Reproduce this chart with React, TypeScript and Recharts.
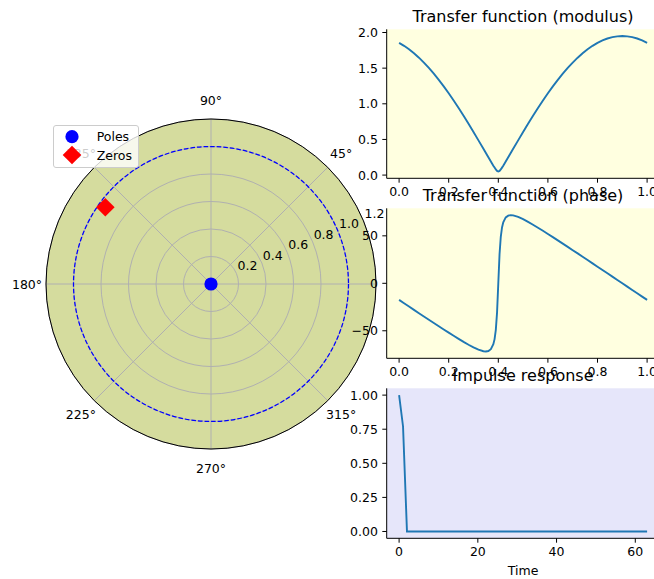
import React from "react";
import {
  RadarChart, Radar, PolarGrid, PolarAngleAxis, PolarRadiusAxis, Legend,
  LineChart, Line, XAxis, YAxis, CartesianGrid, Label,
} from "recharts";

const FONT = "'DejaVu Sans', sans-serif";
const LINE = "#1f77b4";
const POLAR_BG = "#d5dc9e";
const OUTER_R = 165;
const R_MAX = 1.2;

// polar plot: poles and zeros (angle in degrees, radius)
const poleAngles = [0];
const poleRadii = [0];
const zeroAngles = [144];
const zeroRadii = [0.95];
const unitCircle = [1.0];
const angleTicks = [0, 45, 90, 135, 180, 225, 270, 315];
const radiusTicks = [0.2, 0.4, 0.6, 0.8, 1.0, 1.2];

// transfer function
const freq = [
  0, 0.02, 0.04, 0.06, 0.08, 0.1, 0.12, 0.14, 0.16, 0.18, 0.2, 0.22, 0.24, 0.26, 0.28, 0.3,
  0.32, 0.34, 0.35, 0.36, 0.37, 0.38, 0.385, 0.39, 0.395, 0.4, 0.405, 0.41, 0.415, 0.42, 0.43,
  0.44, 0.45, 0.46, 0.48, 0.5, 0.52, 0.54, 0.56, 0.58, 0.6, 0.62, 0.64, 0.66, 0.68, 0.7, 0.72,
  0.74, 0.76, 0.78, 0.8, 0.82, 0.84, 0.86, 0.88, 0.9, 0.92, 0.94, 0.96, 0.98, 1.0,
];
const modulus = [
  1.855, 1.813, 1.765, 1.709, 1.647, 1.578, 1.503, 1.422, 1.335, 1.244, 1.147, 1.046, 0.941, 0.832, 0.719, 0.605,
  0.487, 0.369, 0.309, 0.249, 0.19, 0.132, 0.105, 0.079, 0.059, 0.05, 0.059, 0.079, 0.105, 0.132, 0.19,
  0.249, 0.309, 0.369, 0.487, 0.605, 0.719, 0.832, 0.941, 1.046, 1.147, 1.244, 1.335, 1.422, 1.503, 1.578, 1.647,
  1.709, 1.765, 1.813, 1.855, 1.889, 1.916, 1.935, 1.946, 1.95, 1.946, 1.935, 1.916, 1.889, 1.855,
];
const phase = [
  -17.5, -21.0, -24.5, -28.0, -31.5, -34.9, -38.4, -41.8, -45.2, -48.6, -52.0, -55.3, -58.5, -61.7, -64.7, -67.5,
  -69.9, -71.6, -71.8, -71.3, -69.4, -64.2, -58.8, -49.0, -30.6, 0, 30.6, 49.0, 58.8, 64.2, 69.4,
  71.3, 71.8, 71.6, 69.9, 67.5, 64.7, 61.7, 58.5, 55.3, 52.0, 48.6, 45.2, 41.8, 38.4, 34.9, 31.5,
  28.0, 24.5, 21.0, 17.5, 14.0, 10.5, 7.0, 3.5, 0, -3.5, -7.0, -10.5, -14.0, -17.5,
];
const impulse = [
  1, 0.77, 0, 0, 0, 0, 0, 0, 0, 0, 0, 0, 0, 0, 0, 0,
  0, 0, 0, 0, 0, 0, 0, 0, 0, 0, 0, 0, 0, 0, 0, 0,
  0, 0, 0, 0, 0, 0, 0, 0, 0, 0, 0, 0, 0, 0, 0, 0,
  0, 0, 0, 0, 0, 0, 0, 0, 0, 0, 0, 0, 0, 0, 0, 0,
];

const freqTicks = [0, 0.2, 0.4, 0.6, 0.8, 1.0];
const modTicks = [0, 0.5, 1, 1.5, 2];
const phaseTicks = [-50, 0, 50];
const timeTicks = [0, 20, 40, 60];
const impTicks = [0, 0.25, 0.5, 0.75, 1];

const polarData = [
  ...poleAngles.map((a, i) => ({ angle: a, pole: poleRadii[i] })),
  ...zeroAngles.map((a, i) => ({ angle: a, zero: zeroRadii[i] })),
];
const freqData = freq.map((f, i) => ({ f, mod: modulus[i], ph: phase[i] }));
const impData = impulse.map((h, t) => ({ t, h }));

const minus = (v: number) => (v < 0 ? `\u2212${Math.abs(v)}` : `${v}`);

function Diamond({ cx, cy, s = 9.3 }: { cx: number; cy: number; s?: number }) {
  return <polygon points={`${cx},${cy - s} ${cx + s},${cy} ${cx},${cy + s} ${cx - s},${cy}`} fill="#ff0000" />;
}

// a Radar point carries the data row in payload.payload
const rowOf = (p: any) => (p.payload && p.payload.payload ? p.payload.payload : p.payload) || {};

const poleDot = (p: any) =>
  rowOf(p).pole != null && Number.isFinite(p.cx)
    ? <circle key={`p${p.index}`} cx={p.cx} cy={p.cy} r={6.6} fill="#0000ff" />
    : <g key={`p${p.index}`} />;

const zeroDot = (p: any) =>
  rowOf(p).zero != null && Number.isFinite(p.cx)
    ? <Diamond key={`z${p.index}`} cx={p.cx} cy={p.cy} />
    : <g key={`z${p.index}`} />;

const angleTick = (p: any) => (
  <text x={p.x} y={p.y} textAnchor="middle" dominantBaseline="central" fontSize={12.5} fontFamily={FONT} fill="#000">
    {`${p.payload.value}°`}
  </text>
);

const radiusTick = (p: any) => (
  <text x={p.x + 11} y={p.y - 7.5} textAnchor="middle" dominantBaseline="central" fontSize={12.5} fontFamily={FONT} fill="#000">
    {Number(p.payload.value).toFixed(1)}
  </text>
);

function PolarLegend({ payload }: any) {
  const items = payload ?? [];
  return (
    <svg width={86} height={43} style={{ display: "block" }}>
      <rect x={0.5} y={0.5} width={85} height={42} rx={2.5} fill="#fff" fillOpacity={0.8} stroke="#cccccc" />
      {items.map((it: any, i: number) => {
        const y = 11.7 + i * 18.3;
        return (
          <g key={it.value}>
            {it.dataKey === "zero" ? <Diamond cx={19} cy={y} /> : <circle cx={19} cy={y} r={6.6} fill="#0000ff" />}
            <text x={43.7} y={y} dominantBaseline="central" fontSize={12.5} fontFamily={FONT} fill="#000">{it.value}</text>
          </g>
        );
      })}
    </svg>
  );
}

const tickStyle = { fill: "#000", fontSize: 12.5, fontFamily: FONT };

function Panel(props: {
  top: number; height: number; marginTop: number; xAxisHeight: number;
  data: any[]; xKey: string; yKey: string;
  xDomain: [number, number]; xTicks: number[]; xFmt: (v: number) => string;
  yDomain: [number, number]; yTicks: number[]; yFmt: (v: number) => string;
  bg: string; xLabel?: string;
}) {
  return (
    <div style={{ position: "absolute", left: 340, top: props.top }}>
      <LineChart width={330} height={props.height} data={props.data}
        margin={{ top: props.marginTop, right: 10.5, bottom: 0, left: 0 }}>
        <CartesianGrid fill={props.bg} horizontal={false} vertical={false} />
        <XAxis dataKey={props.xKey} type="number" domain={props.xDomain} allowDataOverflow ticks={props.xTicks}
          interval={0} tickFormatter={props.xFmt} height={props.xAxisHeight} stroke="#000"
          tickSize={4.4} tickMargin={4.4} tick={tickStyle}>
          {props.xLabel && (
            <Label value={props.xLabel} position="insideBottom" offset={5} fill="#000" fontSize={12.5} fontFamily={FONT} />
          )}
        </XAxis>
        <XAxis xAxisId="top" orientation="top" type="number" domain={props.xDomain} height={0}
          tick={false} tickLine={false} stroke="#000" />
        <YAxis type="number" domain={props.yDomain} allowDataOverflow ticks={props.yTicks} interval={0}
          tickFormatter={props.yFmt} width={46.7} stroke="#000" tickSize={4.4} tickMargin={4.4} tick={tickStyle} />
        <YAxis yAxisId="right" orientation="right" type="number" domain={props.yDomain} width={0}
          tick={false} tickLine={false} stroke="#000" />
        <Line type="linear" dataKey={props.yKey} stroke={LINE} strokeWidth={1.9} dot={false} isAnimationActive={false} />
      </LineChart>
    </div>
  );
}

export default function App() {
  return (
    <div style={{ position: "absolute", left: 0, top: 0, width: 654, height: 579, overflow: "hidden", background: "#fff", fontFamily: FONT }}>
      <div style={{ position: "absolute", left: 211 - OUTER_R, top: 284 - OUTER_R, width: OUTER_R * 2, height: OUTER_R * 2, borderRadius: "50%", background: POLAR_BG }} />
      <div style={{ position: "absolute", left: 0, top: 0 }}>
        <RadarChart width={420} height={579} data={polarData} cx={211} cy={284} outerRadius={OUTER_R}
          startAngle={0} endAngle={360} margin={{ top: 0, right: 0, bottom: 0, left: 0 }}>
          <PolarGrid gridType="circle" stroke="#b0b0b0" strokeWidth={1} />
          {/* unit circle, radius mapped the same way as the radius axis */}
          <PolarGrid gridType="circle" radialLines={false} polarAngles={[]}
            polarRadius={unitCircle.map((r) => (r / R_MAX) * OUTER_R)}
            stroke="#0000ff" strokeWidth={1.25} strokeDasharray="4.6 2" />
          <PolarAngleAxis dataKey="angle" type="number" domain={[0, 360]} ticks={angleTicks}
            tickLine={false} tickSize={19} axisLineType="circle" axisLine={{ stroke: "#000", strokeWidth: 1 }}
            tick={angleTick} />
          <PolarRadiusAxis angle={22.5} type="number" domain={[0, R_MAX]} ticks={radiusTicks}
            tickLine={false} axisLine={false} tick={radiusTick} />
          <Radar name="Poles" dataKey="pole" stroke="none" fill="none" dot={poleDot} isAnimationActive={false} />
          <Radar name="Zeros" dataKey="zero" stroke="none" fill="none" dot={zeroDot} isAnimationActive={false} />
          <Legend content={(p: any) => <PolarLegend payload={p.payload} />}
            wrapperStyle={{ left: 53, top: 125, bottom: "auto", width: 86, height: 43 }} />
        </RadarChart>
      </div>
      <Panel top={0} height={200} marginTop={29.3} xAxisHeight={21.7} data={freqData} xKey="f" yKey="mod"
        xDomain={[-0.05, 1.05]} xTicks={freqTicks} xFmt={(v) => v.toFixed(1)}
        yDomain={[-0.045, 2.045]} yTicks={modTicks} yFmt={(v) => v.toFixed(1)} bg="#ffffe0" />
      <Panel top={180} height={200} marginTop={28.3} xAxisHeight={21.7} data={freqData} xKey="f" yKey="ph"
        xDomain={[-0.05, 1.05]} xTicks={freqTicks} xFmt={(v) => v.toFixed(1)}
        yDomain={[-79, 79]} yTicks={phaseTicks} yFmt={minus} bg="#ffffe0" />
      <Panel top={360} height={220} marginTop={28.3} xAxisHeight={41.7} data={impData} xKey="t" yKey="h"
        xDomain={[-3.15, 66.15]} xTicks={timeTicks} xFmt={(v) => `${v}`}
        yDomain={[-0.05, 1.05]} yTicks={impTicks} yFmt={(v) => v.toFixed(2)} bg="#e6e6fa" xLabel="Time" />
      <svg width={654} height={579} style={{ position: "absolute", left: 0, top: 0, pointerEvents: "none" }}>
        <g fontFamily={FONT} fontSize={16} fill="#000" textAnchor="middle">
          <text x={523} y={21.8}>Transfer function (modulus)</text>
          <text x={523} y={200.8}>Transfer function (phase)</text>
          <text x={523} y={380.8}>Impulse response</text>
        </g>
      </svg>
    </div>
  );
}
